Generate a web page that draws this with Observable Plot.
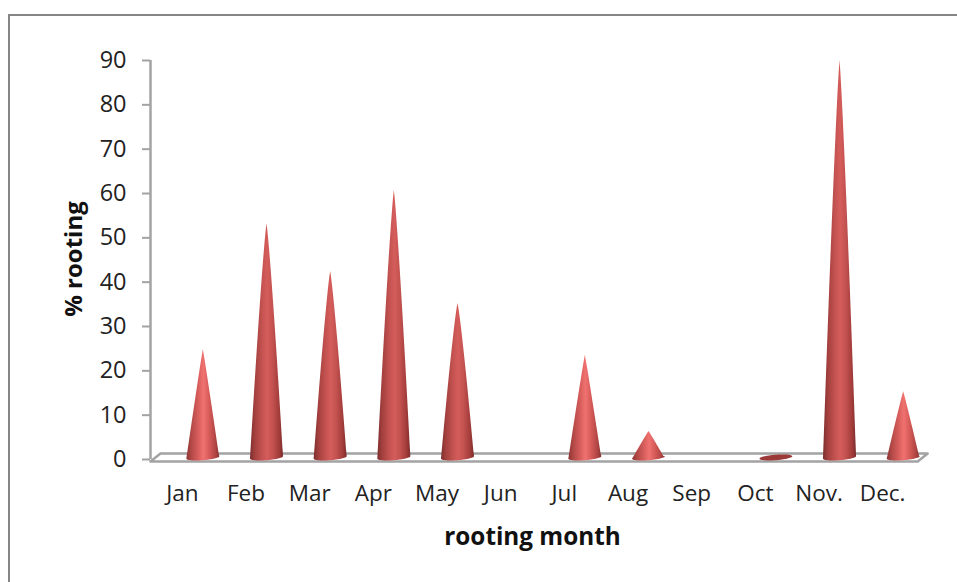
<!DOCTYPE html>
<html>
<head>
<meta charset="utf-8">
<script src="https://cdn.jsdelivr.net/npm/d3@7"></script>
<script src="https://cdn.jsdelivr.net/npm/@observablehq/plot@0.6"></script>
<style>
html,body{margin:0;padding:0;background:#fff;overflow:hidden}
#wrap{position:relative;width:957px;height:582px;overflow:hidden}
#wrap svg{position:absolute;left:0;top:0;display:block}
#frame{position:absolute;left:8px;top:14px;width:960px;height:580px;border:2.5px solid #868686}
</style>
</head>
<body>
<div id="wrap"><div id="frame"></div></div>
<script>
const months = ["Jan","Feb","Mar","Apr","May","Jun","Jul","Aug","Sep","Oct","Nov.","Dec."];
const rooting = [24.8,53.2,42.4,60.7,35.2,0,23.5,6.3,0,0.4,90,15.3];
const yTicks = [0,10,20,30,40,50,60,70,80,90];
const xTitle = "rooting month";
const yTitle = "% rooting";

const xPos = months.map((_, i) => i + 0.5);
const depth = 0.33, halfW = 0.26, baseY = 0.35, baseE = 0.62, tilt = 0.28;
const steps = d3.range(-1, 1.0001, 0.05);

function cone(month, i, v, bulge) {
  const cx = i + 0.5 + depth;
  return steps.map(t => {
    const r = Math.sqrt(Math.max(0, 1 - t * t));
    return {month, x: cx + t * halfW, y1: baseY + t * tilt - r * baseE, y2: Math.max(baseY + t * tilt, (1 - Math.pow(Math.abs(t), bulge)) * v)};
  });
}
function flat(month, i) {
  const cx = i + 0.5 + depth;
  return steps.map(t => {
    const r = Math.sqrt(Math.max(0, 1 - t * t));
    return {month, x: cx + t * halfW, y1: baseY + t * tilt - r * baseE, y2: baseY + t * tilt + r * baseE};
  });
}
const tall = months.flatMap((m, i) => rooting[i] >= 30 ? cone(m, i, rooting[i], 1.18) : []);
const short = months.flatMap((m, i) => rooting[i] >= 1 && rooting[i] < 30 ? cone(m, i, rooting[i], 1.04) : []);
const low = months.flatMap((m, i) => rooting[i] > 0 && rooting[i] < 1 ? flat(m, i) : []);

const floorD = 0.157, floorEnd = 12.05, floorFront = -0.45, floorBack = 1.35;
const floorOutline = [
  {x: 0, y: floorFront}, {x: floorEnd, y: floorFront}, {x: floorEnd + floorD, y: floorBack}, {x: floorD, y: floorBack}, {x: 0, y: floorFront}
];
const axisGray = "#a3a3a3";

const chart = Plot.plot({
  width: 957, height: 582,
  marginLeft: 150, marginRight: 43, marginTop: 60, marginBottom: 123,
  style: {background: "transparent", fontFamily: "'Open Sans', sans-serif"},
  x: {type: "linear", domain: [0, 12]},
  y: {type: "linear", domain: [0, 90]},
  marks: [
    Plot.line(floorOutline, {x: "x", y: "y", stroke: axisGray, strokeWidth: 2.5}),
    Plot.ruleX([0], {y1: 0, y2: 90, stroke: axisGray, strokeWidth: 2.5}),
    Plot.axisY({ticks: yTicks, tickSize: 8, stroke: axisGray, strokeWidth: 2, tickPadding: 16, fontSize: 23.5, label: null, color: "#222"}),
    Plot.axisX({ticks: xPos, tickFormat: d => months[Math.round(d - 0.5)], tickSize: 0, tickPadding: 26, fontSize: 22.5, label: null, color: "#222"}),
    Plot.area(tall, {x1: "x", y1: "y1", y2: "y2", z: "month", fill: "url(#coneGrad)"}),
    Plot.area(short, {x1: "x", y1: "y1", y2: "y2", z: "month", fill: "url(#coneGradLight)"}),
    Plot.area(low, {x1: "x", y1: "y1", y2: "y2", z: "month", fill: "#9b3a38"}),
    Plot.text([xTitle], {frameAnchor: "bottom", dy: 85, text: d => d, fontSize: 24.3, fontWeight: "bold", fill: "#111"}),
    Plot.text([yTitle], {frameAnchor: "left", dx: -76, dy: -1, textAnchor: "middle", rotate: -90, text: d => d, fontSize: 24, fontWeight: "bold", fill: "#111"})
  ]
});

const ns = "http://www.w3.org/2000/svg";
const defs = document.createElementNS(ns, "defs");
function gradient(id, stops) {
  const g = document.createElementNS(ns, "linearGradient");
  g.setAttribute("id", id);
  g.setAttribute("x1", "0"); g.setAttribute("x2", "1"); g.setAttribute("y1", "0"); g.setAttribute("y2", "0");
  stops.forEach(([o, c]) => {
    const s = document.createElementNS(ns, "stop");
    s.setAttribute("offset", o); s.setAttribute("stop-color", c);
    g.appendChild(s);
  });
  defs.appendChild(g);
}
gradient("coneGrad", [[0, "#7c2e2d"], [0.14, "#a23f3d"], [0.38, "#c65452"], [0.52, "#d45d5b"], [0.68, "#c45250"], [0.88, "#a23c3a"], [1, "#7a2c2b"]]);
gradient("coneGradLight", [[0, "#8a3433"], [0.14, "#b04745"], [0.38, "#da605e"], [0.52, "#f07270"], [0.68, "#d85c5a"], [0.88, "#b04543"], [1, "#863130"]]);
chart.insertBefore(defs, chart.firstChild);
document.getElementById("wrap").appendChild(chart);
</script>
</body>
</html>
